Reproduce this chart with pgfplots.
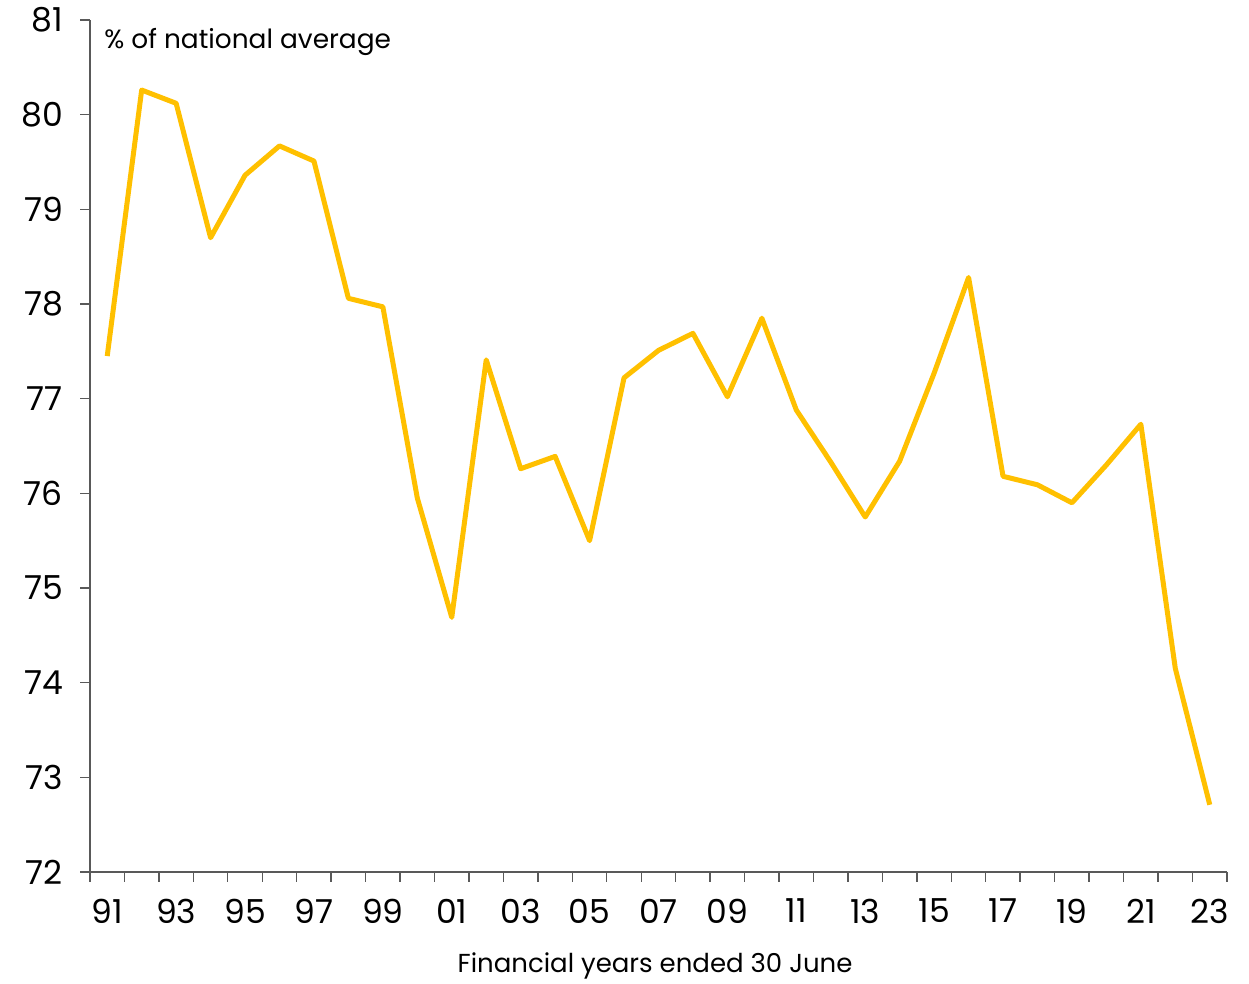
\documentclass[border=0pt]{standalone}
\usepackage{pgfplots}
\pgfplotsset{compat=1.18}
\usepackage{fontspec}
\setmainfont{Poppins}
\definecolor{gold}{HTML}{FFC000}
\definecolor{axgray}{HTML}{595959}
\begin{document}
\begin{tikzpicture}
\begin{axis}[
  at={(0,0)}, anchor=origin,
  scale only axis,
  width=568.5pt, height=426pt,
  xmin=1990.5, xmax=2023.5,
  ymin=72, ymax=81,
  axis lines*=left,
  axis line style={axgray, line width=0.7pt},
  ytick={72,73,...,81},
  xtick={1991,1993,...,2023},
  xticklabels={91,93,95,97,99,01,03,05,07,09,11,13,15,17,19,21,23},
  minor xtick={1990.5,1991.5,...,2023.5},
  major x tick style={draw=none},
  minor x tick style={axgray, line width=0.7pt},
  y tick style={axgray, line width=0.7pt},
  tick align=outside,
  major tick length=5pt,
  minor tick length=5pt,
  tick label style={font=\fontsize{16.5}{20}\selectfont, text=black},
  /pgf/number format/assume math mode=true,
  yticklabel style={xshift=-5pt},
  xticklabel style={yshift=-5pt},
  clip=false,
]
\addplot[gold, line width=2.5pt, line join=round] coordinates {
(1991,77.45) (1992,80.26) (1993,80.12) (1994,78.70) (1995,79.36) (1996,79.67)
(1997,79.51) (1998,78.06) (1999,77.97) (2000,75.95) (2001,74.69) (2002,77.41)
(2003,76.26) (2004,76.39) (2005,75.50) (2006,77.22) (2007,77.51) (2008,77.69)
(2009,77.02) (2010,77.85) (2011,76.88) (2012,76.33) (2013,75.75) (2014,76.34)
(2015,77.27) (2016,78.28) (2017,76.18) (2018,76.09) (2019,75.90) (2020,76.30)
(2021,76.73) (2022,74.15) (2023,72.71)
};
\node[anchor=west, inner sep=0pt, font=\fontsize{13.2}{16}\selectfont] at (rel axis cs:0.0123,0.974) {\% of national average};
\node[inner sep=0pt, font=\fontsize{13}{16}\selectfont] at (rel axis cs:0.497,0) [yshift=-47pt] {Financial years ended 30 June};
\end{axis}
\pgfresetboundingbox
\path (-45pt,-56pt) rectangle (579.5pt,436pt);
\end{tikzpicture}
\end{document}
